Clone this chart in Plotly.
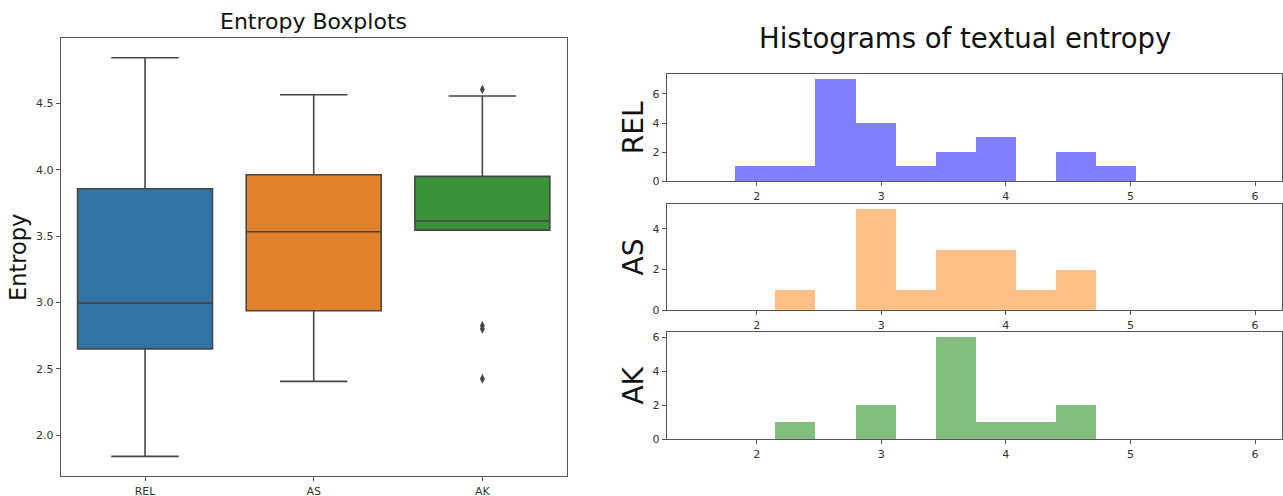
import plotly.graph_objects as go

# ---------------- data ----------------
groups = ["REL", "AS", "AK"]
box_q1 = [2.65, 2.937, 3.545]
box_median = [2.995, 3.533, 3.613]
box_q3 = [3.857, 3.962, 3.95]
box_lower = [1.84, 2.405, 3.545]
box_upper = [4.844, 4.565, 4.555]
ak_outliers = [4.605, 2.80, 2.825, 2.425]

bin_start = 1.827
bin_width = 0.3213
rel_counts = [1, 1, 7, 4, 1, 2, 3, 0, 2, 1]
as_counts = [0, 1, 0, 5, 1, 3, 3, 1, 2, 0]
ak_counts = [0, 1, 0, 2, 0, 6, 1, 1, 2, 0]
hist_ticks = [2, 3, 4, 5, 6]
box_ticks = [2.0, 2.5, 3.0, 3.5, 4.0, 4.5]

# ---------------- styles ----------------
box_colors = ["#3274a1", "#e1812c", "#3a923a"]
hist_colors = ["#8080ff", "#ffbf86", "#80bf80"]
line_gray = "#464646"
spine = "#555555"
font = "DejaVu Sans"
W, H = 1283, 496

fig = go.Figure()

for i, g in enumerate(groups):
    fig.add_trace(go.Box(
        x=[g], q1=[box_q1[i]], median=[box_median[i]], q3=[box_q3[i]],
        lowerfence=[box_lower[i]], upperfence=[box_upper[i]],
        width=0.8,
        fillcolor=box_colors[i], line=dict(color=line_gray, width=1.6),
        whiskerwidth=0.5, boxpoints=False, name=g, showlegend=False,
        xaxis="x", yaxis="y",
    ))

fig.add_trace(go.Scatter(
    x=["AK"] * len(ak_outliers), y=ak_outliers, mode="markers",
    marker=dict(symbol="diamond-tall", size=7, color=line_gray),
    showlegend=False, xaxis="x", yaxis="y",
))

centers = [bin_start + bin_width * (k + 0.5) for k in range(len(rel_counts))]
for j, (counts, col) in enumerate(zip([rel_counts, as_counts, ak_counts], hist_colors)):
    ax = str(j + 2)
    fig.add_trace(go.Bar(
        x=centers, y=counts, width=bin_width,
        marker=dict(color=col, line=dict(width=0)),
        showlegend=False, xaxis="x" + ax, yaxis="y" + ax,
    ))

def px_x(a, b):
    return [a / W, b / W]

def px_y(top, bottom):
    return [1 - bottom / H, 1 - top / H]

axis_common = dict(
    showline=True, linecolor=spine, linewidth=1, mirror=True,
    ticks="outside", ticklen=4, tickcolor=spine, tickwidth=1,
    showgrid=False, zeroline=False, automargin=False,
    tickfont=dict(family=font, size=11, color="#333333"),
)

layout = dict(
    template="none",
    width=W, height=H, margin=dict(l=0, r=0, t=0, b=0, pad=0), autosize=False,
    paper_bgcolor="white", plot_bgcolor="white",
    boxgap=0.2, boxmode="overlay", bargap=0, barmode="overlay",
    font=dict(family=font),
    xaxis=dict(domain=px_x(60.7, 566.7), anchor="y", type="category",
               categoryorder="array", categoryarray=groups,
               range=[-0.5, 2.5], **axis_common),
    yaxis=dict(domain=px_y(38.3, 476.3), anchor="x", range=[1.69, 4.99],
               tickvals=box_ticks, tickformat=".1f",
               title=dict(text="Entropy", font=dict(family=font, size=22.5, color="#111"), standoff=3),
               **axis_common),
)

hist_y = [(74.3, 181.3), (203.5, 310.3), (332.3, 439.3)]
hist_ranges = [[0, 7.35], [0, 5.25], [0, 6.3]]
for j in range(3):
    ax = str(j + 2)
    layout["xaxis" + ax] = dict(domain=px_x(666.7, 1281.7), anchor="y" + ax,
                                range=[1.278, 6.214], tickvals=hist_ticks, **axis_common)
    layout["yaxis" + ax] = dict(domain=px_y(*hist_y[j]), anchor="x" + ax,
                                range=hist_ranges[j], dtick=2,
                                title=dict(text=groups[j], font=dict(family=font, size=28, color="#111"), standoff=0),
                                **axis_common)

layout["annotations"] = [
    dict(text="Entropy Boxplots", x=313.7 / W, y=1 - 22 / H, xref="paper", yref="paper",
         xanchor="center", yanchor="middle", showarrow=False,
         font=dict(family=font, size=22, color="#111")),
    dict(text="Histograms of textual entropy", x=964.5 / W, y=1 - 38 / H, xref="paper", yref="paper",
         xanchor="center", yanchor="middle", showarrow=False,
         font=dict(family=font, size=27.5, color="#111")),
]

fig.update_layout(**layout)
fig.write_html("out.html")
